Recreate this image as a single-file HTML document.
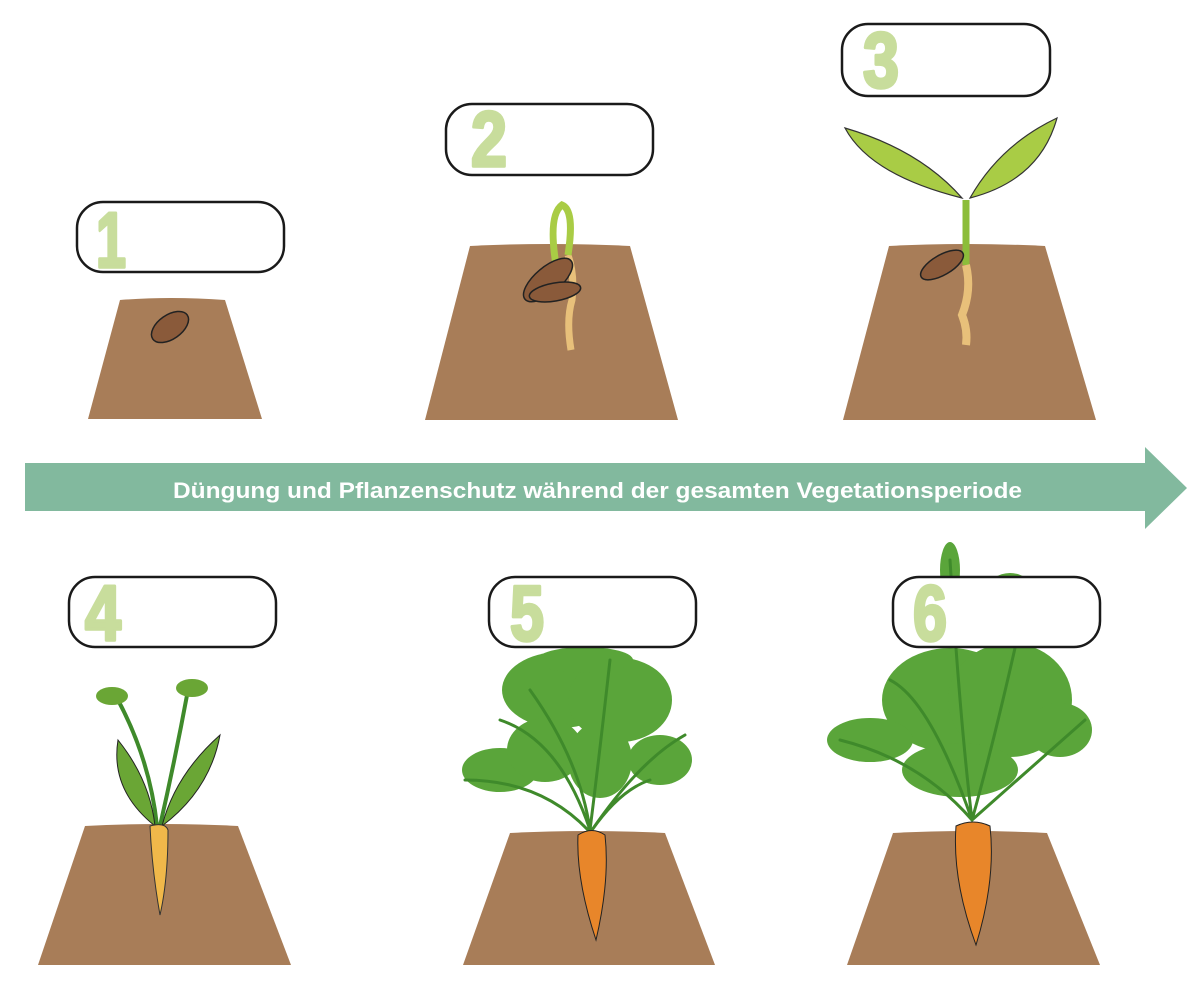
<!DOCTYPE html>
<html><head><meta charset="utf-8"><style>
html,body{margin:0;padding:0;background:#fff;}
svg{display:block}
.n{font-family:"Liberation Sans",sans-serif;font-weight:bold;font-size:78px;fill:#c8dd9c;stroke:#c8dd9c;stroke-width:3.5;stroke-linejoin:round}
.b{fill:#fff;stroke:#1a1a1a;stroke-width:2.5}
.s{fill:#a87d58}
.st{stroke:#3f8a2b;fill:none;stroke-linecap:round}
</style></head><body>
<svg width="1200" height="989" viewBox="0 0 1200 989">
<!-- soils -->
<path class="s" d="M120,300 Q170,296 225,300 L262,419 L88,419 Z"/>
<path class="s" d="M470,246 Q550,242 630,246 L678,420 L425,420 Z"/>
<path class="s" d="M889,246 Q965,242 1045,246 L1096,420 L843,420 Z"/>
<path class="s" d="M85,826 Q160,822 238,826 L291,965 L38,965 Z"/>
<path class="s" d="M510,833 Q590,829 665,833 L715,965 L463,965 Z"/>
<path class="s" d="M893,833 Q970,829 1047,833 L1100,965 L847,965 Z"/>

<!-- seed 1 -->
<ellipse cx="170" cy="327" rx="21" ry="12" transform="rotate(-35 170 327)" fill="#8a5a3a" stroke="#222" stroke-width="1.5"/>
<!-- plant 2 -->
<path d="M568,255 Q575,275 572,300 Q566,320 571,350" stroke="#e8c07a" stroke-width="7" fill="none"/>
<path d="M556,265 Q548,215 562,205 Q575,210 568,255" stroke="#a9cc45" stroke-width="7" fill="none"/>
<ellipse cx="548" cy="280" rx="30" ry="13" transform="rotate(-40 548 280)" fill="#8a5a3a" stroke="#222" stroke-width="1.5"/>
<ellipse cx="555" cy="292" rx="26" ry="9" transform="rotate(-10 555 292)" fill="#8a5a3a" stroke="#222" stroke-width="1.5"/>
<!-- plant 3 -->
<path d="M966,200 L966,265" stroke="#8cbd3a" stroke-width="7"/>
<path d="M966,265 Q972,290 962,315 Q968,330 966,345" stroke="#e8c07a" stroke-width="8" fill="none"/>
<path d="M962,198 Q920,150 845,128 Q870,175 962,198 Z" fill="#a9cc45" stroke="#333" stroke-width="1.2"/>
<path d="M970,198 Q1000,145 1057,118 Q1040,180 970,198 Z" fill="#a9cc45" stroke="#333" stroke-width="1.2"/>
<ellipse cx="942" cy="265" rx="24" ry="10" transform="rotate(-30 942 265)" fill="#8a5a3a" stroke="#222" stroke-width="1.5"/>
<!-- plant 4 -->
<path d="M157,826 Q150,760 118,700 M160,826 Q175,760 188,690" class="st" stroke-width="4"/>
<path d="M155,826 Q110,790 118,740 Q150,780 155,826 Z" fill="#6aa635" stroke="#222"/>
<path d="M162,826 Q210,790 220,735 Q175,775 162,826 Z" fill="#6aa635" stroke="#222"/>
<ellipse cx="112" cy="696" rx="16" ry="9" fill="#6aa635"/>
<ellipse cx="192" cy="688" rx="16" ry="9" fill="#6aa635"/>
<path d="M150,826 Q165,822 168,830 Q168,880 160,915 Q152,870 150,826 Z" fill="#f0b84a" stroke="#333"/>
<!-- plant 5 foliage -->
<g fill="#5aa53a">
<ellipse cx="560" cy="690" rx="58" ry="38"/><ellipse cx="620" cy="700" rx="52" ry="42"/>
<ellipse cx="500" cy="770" rx="38" ry="22"/><ellipse cx="660" cy="760" rx="32" ry="25"/>
<ellipse cx="545" cy="750" rx="38" ry="32"/><ellipse cx="600" cy="760" rx="32" ry="38"/>
<ellipse cx="585" cy="660" rx="48" ry="13"/>
</g>
<g class="st" stroke-width="3" stroke="#2f7422">
<path d="M590,830 Q580,760 530,690 M590,830 Q600,750 610,660 M592,830 Q640,760 685,735 M588,830 Q540,780 465,780 M592,830 Q620,790 650,780 M590,830 Q560,740 500,720"/>
</g>
<path d="M578,835 Q592,826 605,835 Q610,880 596,940 Q576,880 578,835 Z" fill="#e8862a" stroke="#222"/>
<!-- plant 6 foliage -->
<g fill="#5aa53a">
<ellipse cx="950" cy="700" rx="68" ry="52"/><ellipse cx="1010" cy="700" rx="62" ry="57"/>
<ellipse cx="870" cy="740" rx="43" ry="22"/><ellipse cx="1060" cy="730" rx="32" ry="27"/>
<ellipse cx="960" cy="770" rx="58" ry="27"/><ellipse cx="950" cy="570" rx="10" ry="28"/>
<ellipse cx="1010" cy="590" rx="22" ry="17"/>
</g>
<g class="st" stroke-width="3" stroke="#2f7422">
<path d="M972,820 Q960,720 950,560 M972,820 Q1000,720 1030,580 M972,820 Q920,760 840,740 M972,820 Q1040,760 1085,720 M972,820 Q930,700 890,680"/>
</g>
<path d="M956,826 Q973,818 990,826 Q996,880 976,945 Q952,880 956,826 Z" fill="#e8862a" stroke="#222"/>

<!-- arrow -->
<path d="M25,463 H1145 V447 L1187,488 L1145,529 V511 H25 Z" fill="#82b99e"/>
<text x="173" y="498" textLength="849" lengthAdjust="spacingAndGlyphs" font-family="Liberation Sans,sans-serif" font-weight="bold" font-size="22" fill="#fff">Düngung und Pflanzenschutz während der gesamten Vegetationsperiode</text>

<!-- boxes -->
<rect class="b" x="77" y="202" width="207" height="70" rx="26"/>
<text class="n" x="96" y="267" textLength="30" lengthAdjust="spacingAndGlyphs">1</text>
<rect class="b" x="446" y="104" width="207" height="71" rx="26"/>
<text class="n" x="471" y="166" textLength="36" lengthAdjust="spacingAndGlyphs">2</text>
<rect class="b" x="842" y="24" width="208" height="72" rx="26"/>
<text class="n" x="863" y="87" textLength="36" lengthAdjust="spacingAndGlyphs">3</text>
<rect class="b" x="69" y="577" width="207" height="70" rx="26"/>
<text class="n" x="85" y="640" textLength="36" lengthAdjust="spacingAndGlyphs">4</text>
<rect class="b" x="489" y="577" width="207" height="70" rx="26"/>
<text class="n" x="510" y="640" textLength="34" lengthAdjust="spacingAndGlyphs">5</text>
<rect class="b" x="893" y="577" width="207" height="70" rx="26"/>
<text class="n" x="913" y="640" textLength="34" lengthAdjust="spacingAndGlyphs">6</text>
</svg>
</body></html>
